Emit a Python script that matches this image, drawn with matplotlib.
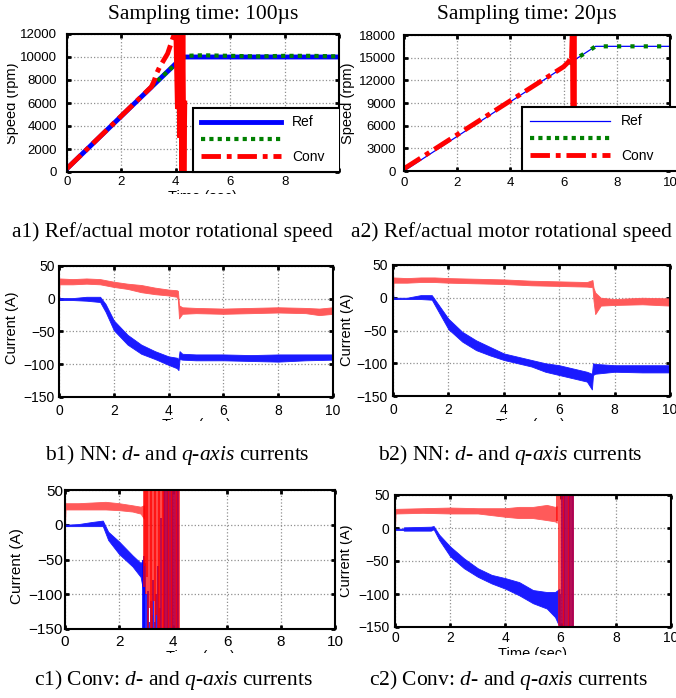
import matplotlib
matplotlib.use("Agg")
import matplotlib.pyplot as plt
from matplotlib.lines import Line2D
from matplotlib.transforms import Bbox

plt.rcParams['font.family'] = ['Liberation Sans', 'DejaVu Sans']
plt.rcParams['mathtext.fontset'] = 'custom'
plt.rcParams['mathtext.rm'] = 'Liberation Serif'
plt.rcParams['mathtext.it'] = 'Liberation Serif:italic'

# ---- speed traces (rpm), sampling 100 us ----
a1_ref_t = [0, 4.25, 10]
a1_ref_rpm = [300, 10000, 10000]
a1_act_t = [3.1, 4.25, 4.35, 5, 6, 7, 8, 9, 10]
a1_act_rpm = [7430, 9950, 10100, 10150, 10100, 10050, 10100, 10100, 10050]
a1_conv_t = [0, 3.1, 3.2, 3.3, 3.4, 3.55, 3.7, 3.8, 3.9, 4.0]
a1_conv_rpm = [300, 7400, 7900, 8600, 9100, 9700, 10300, 11000, 11700, 12300]
a1_osc_t = [4.00, 4.06, 4.10, 4.14, 4.18, 4.22, 4.26, 4.30, 4.33]
a1_osc_rpm = [12500, 5500, 12500, 3000, 12500, -300, 12500, -300, 6000]

# ---- speed traces (rpm), sampling 20 us ----
a2_ref_t = [0, 7.2, 10]
a2_ref_rpm = [0, 16500, 16500]
a2_act_t = [6.2, 6.5, 6.95, 7.2, 10]
a2_act_rpm = [14200, 14950, 15900, 16500, 16500]
a2_conv_t = [0, 6.0, 6.2, 6.3]
a2_conv_rpm = [300, 13800, 14500, 15200]
a2_osc_t = [6.30, 6.33, 6.36, 6.39, 6.42]
a2_osc_rpm = [15200, 19000, 0, 19000, 0]

# ---- NN currents (A), 100 us: ripple band lo/hi ----
b1_q_t = [0, 0.02, 0.5, 1.0, 1.5, 2.0, 2.5, 3.0, 3.5, 4.0, 4.3, 4.34, 4.38, 4.5, 5.0, 6.0, 7.0, 8.0, 9.0, 9.5, 10]
b1_q_hi = [30, 31, 30, 31, 30, 26, 23, 21, 17, 14, 13, 12, -10, -13, -14, -15, -14, -13, -14, -15, -13]
b1_q_lo = [0, 22, 22, 23, 22, 18, 15, 10, 7, 5, 3, -2, -30, -23, -22, -23, -22, -21, -22, -25, -23]
b1_d_t = [0, 0.02, 0.5, 1.0, 1.5, 1.7, 2.0, 2.5, 3.0, 3.5, 4.0, 4.3, 4.36, 4.40, 4.5, 5, 6, 7, 8, 9, 10]
b1_d_hi = [6, 1, 1, 3, 3, -8, -33, -55, -70, -80, -88, -90, -92, -80, -84, -85, -85, -86, -85, -85, -85]
b1_d_lo = [0, -2, -2, -3, -5, -20, -48, -70, -84, -92, -101, -106, -109, -92, -93, -94, -94, -95, -96, -94, -93]

# ---- NN currents (A), 20 us ----
b2_q_t = [0, 0.02, 0.5, 1.0, 1.5, 2, 3, 4, 5, 6, 7, 7.2, 7.24, 7.3, 7.5, 8, 9, 10]
b2_q_hi = [30, 31, 30, 31, 31, 30, 29, 28, 26, 25, 24, 27, 15, 8, 0, -2, 0, -1]
b2_q_lo = [0, 23, 23, 24, 24, 23, 22, 21, 19, 18, 17, 16, -5, -25, -12, -11, -10, -12]
b2_d_t = [0, 0.02, 0.5, 1.0, 1.4, 1.6, 2.0, 2.5, 3.0, 3.5, 4.0, 4.5, 5.0, 5.5, 6.0, 6.5, 7.0, 7.18, 7.22, 7.3, 8, 9, 10]
b2_d_hi = [8, 0, 0, 4, 4, -8, -32, -52, -65, -75, -85, -90, -95, -100, -103, -108, -113, -116, -100, -101, -103, -103, -103]
b2_d_lo = [0, -2, -2, -2, -3, -18, -48, -67, -80, -88, -95, -100, -105, -113, -118, -123, -128, -140, -118, -116, -113, -114, -114]

# ---- conventional controller currents (A), 100 us ----
c1_q_t = [0, 0.02, 0.5, 1.0, 1.5, 2.0, 2.5, 2.8, 2.92]
c1_q_hi = [30, 31, 31, 32, 33, 31, 28, 26, 28]
c1_q_lo = [0, 22, 22, 22, 22, 21, 19, 16, 9]
c1_d_t = [0, 0.02, 0.5, 1.0, 1.4, 1.6, 2.0, 2.5, 2.8, 2.92]
c1_d_hi = [4, 0, 1, 4, 6, -10, -24, -44, -55, -50]
c1_d_lo = [0, -2, -2, -2, -2, -22, -42, -60, -75, -100]
c1_q_osc_t = [2.93, 2.97, 3.01, 3.05, 3.09, 3.13, 3.18, 3.23, 3.28, 3.33, 3.38, 3.43, 3.48,
              3.53, 3.58, 3.63, 3.68, 3.74, 3.80, 3.86, 3.92, 3.98, 4.04, 4.10, 4.16, 4.22]
c1_q_osc_lo = [-90, -60, -100, -75, -150, -120, -150, -150, -110, -150, -130, -150, -150,
               -150, -150, -150, -150, -150, -150, -150, -150, -150, -150, -150, -150, -150]
c1_d_osc_t = [2.90, 2.94, 2.98, 3.02, 3.07, 3.12, 3.17, 3.22, 3.27, 3.32, 3.38, 3.44,
              3.50, 3.56, 3.65, 3.71, 3.77, 3.83, 3.89, 3.95, 4.01, 4.07, 4.13, 4.19]
c1_d_osc_hi = [-50, -45, -55, -100, -95, -140, -110, -130, -80, -140, -100, -60,
               -120, 10, 50, 50, 50, 50, 50, 50, 50, 50, 50, 50]

# ---- conventional controller currents (A), 20 us ----
c2_q_t = [0, 0.02, 1, 2, 3, 4, 4.5, 5, 5.5, 5.8, 5.86]
c2_q_hi = [28, 29, 30, 31, 30, 30, 32, 32, 35, 32, 33]
c2_q_lo = [0, 22, 23, 22, 22, 17, 15, 15, 12, 10, 8]
c2_d_t = [0, 0.3, 0.32, 1.3, 1.4, 1.6, 2, 2.5, 3, 3.5, 4, 4.5, 5, 5.5, 5.8, 5.96]
c2_d_hi = [-1, -1, 1, 2, 3, -10, -28, -46, -61, -71, -76, -82, -94, -97, -97, -92]
c2_d_lo = [-3, -3, -4, -4, -2, -18, -43, -61, -74, -84, -92, -102, -114, -122, -135, -150]
c2_q_osc_t = [5.86, 5.95, 6.02, 6.08, 6.14, 6.20, 6.26, 6.32, 6.38, 6.44]
c2_q_osc_lo = [10, -150, -150, -150, -150, -150, -150, -150, -150, -150]
c2_d_osc_t = [5.98, 6.05, 6.11, 6.17, 6.23, 6.29, 6.35, 6.41, 6.46]
c2_d_osc_hi = [-100, 50, 50, 50, 50, 50, 50, 50, 50]

time_ticks = [0, 2, 4, 6, 8, 10]
speed_ticks_a1 = [0, 2000, 4000, 6000, 8000, 10000, 12000]
speed_ticks_a2 = [0, 3000, 6000, 9000, 12000, 15000, 18000]
current_ticks = [-150, -100, -50, 0, 50]

W, H = 676, 698
fig = plt.figure(figsize=(W / 100, H / 100), dpi=100)

RED, BLUE, GREEN = '#ff0000', '#0000ff', '#008000'
SERIF = ['Liberation Serif', 'DejaVu Serif']


def add_ax(l, t, r, b):
    return fig.add_axes([l / W, 1 - b / H, (r - l) / W, (b - t) / H])


def crop(x0, y0, x1, y1):
    return Bbox.from_extents(x0, H - y1, x1, H - y0)


def ftext(x, y, s, clip=None, **kw):
    t = fig.text(x / W, 1 - y / H, s, **kw)
    if clip is not None:
        t.set_clip_box(clip)
        t.set_clip_on(True)
    return t


def style(ax, ylim, yticks, fs, ypad, xpad, xlabels=None):
    ax.set_xlim(0, 10)
    ax.set_ylim(*ylim)
    ax.set_xticks(time_ticks)
    if xlabels is not None:
        ax.set_xticklabels(xlabels)
    ax.set_yticks(yticks)
    ax.grid(True, color='#909090', ls=':', lw=0.9)
    ax.set_axisbelow(True)
    ax.tick_params(direction='in', top=True, right=True, length=3, width=2,
                   labelsize=fs)
    ax.tick_params(axis='y', pad=ypad)
    ax.tick_params(axis='x', pad=xpad)
    for sp in ax.spines.values():
        sp.set_linewidth(1.5)


def speed_legend(ax, x0, h, lw_ref):
    handles = [Line2D([], [], color=BLUE, lw=lw_ref),
               Line2D([], [], color=GREEN, lw=3, ls=(0, (1, 1))),
               Line2D([], [], color=RED, lw=3.5, ls=(0, (4, 1.2, 1, 1.2)))]
    leg = ax.legend(handles, ['Ref', ' ', 'Conv'], loc='lower left',
                    bbox_to_anchor=(x0, 0, 1.2 - x0, h), mode='expand',
                    borderaxespad=0, fontsize=10, handlelength=5.8,
                    handletextpad=0.8, labelspacing=0.25, borderpad=0.55,
                    fancybox=False, framealpha=1, edgecolor='black')
    leg.get_frame().set_linewidth(1.5)
    return leg


def band(ax, t, lo, hi, color):
    ax.fill_between(t, lo, hi, color=color, lw=0.6)


# ---------------- a1 ----------------
clip_a1 = crop(7, 0, 339, 194)
ax = add_ax(67, 34, 339, 172)
style(ax, (0, 12000), speed_ticks_a1, 9.5, 7, 3, ['0', '2', '4', '6', '8', ''])
ax.plot(a1_ref_t, a1_ref_rpm, color=BLUE, lw=3.5)
ax.plot(a1_act_t, a1_act_rpm, color=GREEN, lw=3, ls=(0, (1, 1)))
ax.plot(a1_conv_t, a1_conv_rpm, color=RED, lw=3.5, ls=(0, (4, 1.2, 1, 1.2)))
ax.plot(a1_osc_t, a1_osc_rpm, color=RED, lw=3.5, solid_joinstyle='miter')
leg = speed_legend(ax, (193 - 67) / 272, (172 - 109) / 138, 3.5)
leg.get_frame().set_clip_box(clip_a1)
leg.get_frame().set_clip_on(True)
ftext(203, 14, 'Sampling time: 100\u00b5s', ha='center', va='center',
      fontsize=15.5, family=SERIF)
ftext(12, 103, 'Speed (rpm)', clip=clip_a1, rotation=90, ha='center',
      va='center', fontsize=10.5)
ftext(203, 190, 'Time (sec)', clip=clip_a1, ha='center', va='top', fontsize=10.5)

# ---------------- a2 ----------------
clip_a2 = crop(340, 0, 676, 190)
ax = add_ax(404, 35, 670, 171)
style(ax, (0, 18000), speed_ticks_a2, 9.5, 6, 4)
ax.plot(a2_ref_t, a2_ref_rpm, color=BLUE, lw=0.9)
ax.plot(a2_act_t, a2_act_rpm, color=GREEN, lw=3, ls=(0, (1, 2.2)))
ax.plot(a2_conv_t, a2_conv_rpm, color=RED, lw=3.5, ls=(0, (4, 1.2, 1, 1.2)))
ax.plot(a2_osc_t, a2_osc_rpm, color=RED, lw=3.5)
speed_legend(ax, (522 - 404) / 266, (171 - 105) / 136, 0.9)
ftext(527, 14, 'Sampling time: 20\u00b5s', ha='center', va='center',
      fontsize=15.5, family=SERIF)
ftext(348, 103, 'Speed (rpm)', clip=clip_a2, rotation=90, ha='center',
      va='center', fontsize=10.5)

# ---------------- b1 ----------------
clip_b1 = crop(5, 250, 338, 421)
ax = add_ax(59, 266, 333, 397)
style(ax, (-150, 50), current_ticks, 10, 3, 5)
band(ax, b1_q_t, b1_q_lo, b1_q_hi, '#ff5a5a')
band(ax, b1_d_t, b1_d_lo, b1_d_hi, '#1a1aff')
ftext(12, 328, 'Current (A)', clip=clip_b1, rotation=90, ha='center',
      va='center', fontsize=10.5)
ftext(196, 418, 'Time (sec)', clip=clip_b1, ha='center', va='top', fontsize=10.5)

# ---------------- b2 ----------------
clip_b2 = crop(340, 250, 676, 421)
ax = add_ax(393, 265, 670, 396)
style(ax, (-150, 50), current_ticks, 10, 4, 5)
band(ax, b2_q_t, b2_q_lo, b2_q_hi, '#ff5a5a')
band(ax, b2_d_t, b2_d_lo, b2_d_hi, '#1a1aff')
ftext(347, 330, 'Current (A)', clip=clip_b2, rotation=90, ha='center',
      va='center', fontsize=10.5)
ftext(531, 418, 'Time (sec)', clip=clip_b2, ha='center', va='top', fontsize=10.5)

# ---------------- c1 ----------------
clip_c1 = crop(5, 475, 338, 653)
ax = add_ax(65, 490, 335, 629)
style(ax, (-150, 50), current_ticks, 11, 1.5, 4)
band(ax, c1_q_t, c1_q_lo, c1_q_hi, '#ff5a5a')
band(ax, c1_d_t, c1_d_lo, c1_d_hi, '#1a1aff')
ax.vlines(c1_d_osc_t, -150, c1_d_osc_hi, color=BLUE, lw=1.2)
ax.vlines(c1_q_osc_t, c1_q_osc_lo, 60, color=RED, lw=1.2, alpha=0.85)
ftext(17, 566, 'Current (A)', clip=clip_c1, rotation=90, ha='center',
      va='center', fontsize=11)
ftext(200, 650, 'Time (sec)', clip=clip_c1, ha='center', va='top', fontsize=10.5)

# ---------------- c2 ----------------
clip_c2 = crop(340, 475, 676, 655)
ax = add_ax(395, 495, 671, 627)
style(ax, (-150, 50), current_ticks, 10, 4, 3)
band(ax, c2_q_t, c2_q_lo, c2_q_hi, '#ff5a5a')
band(ax, c2_d_t, c2_d_lo, c2_d_hi, '#1a1aff')
ax.vlines(c2_d_osc_t, -150, c2_d_osc_hi, color=BLUE, lw=1.2)
ax.vlines(c2_q_osc_t, c2_q_osc_lo, 60, color=RED, lw=1.2, alpha=0.8)
ftext(346, 561, 'Current (A)', clip=clip_c2, rotation=90, ha='center',
      va='center', fontsize=10.5)
ftext(533, 647, 'Time (sec)', clip=clip_c2, ha='center', va='top', fontsize=10.5)

# ---------------- captions ----------------
cap = dict(ha='center', va='center', fontsize=15.5, family=SERIF)
ftext(172, 232, 'a1) Ref/actual motor rotational speed', **cap)
ftext(511, 232, 'a2) Ref/actual motor rotational speed', **cap)
ftext(177, 455, r'b1) NN: $\it{d}$- and $\it{q}$-$\it{axis}$ currents', **cap)
ftext(510, 455, r'b2) NN: $\it{d}$- and $\it{q}$-$\it{axis}$ currents', **cap)
ftext(173, 680, r'c1) Conv: $\it{d}$- and $\it{q}$-$\it{axis}$ currents', **cap)
ftext(508, 680, r'c2) Conv: $\it{d}$- and $\it{q}$-$\it{axis}$ currents', **cap)

fig.savefig('out.png', dpi=100)
